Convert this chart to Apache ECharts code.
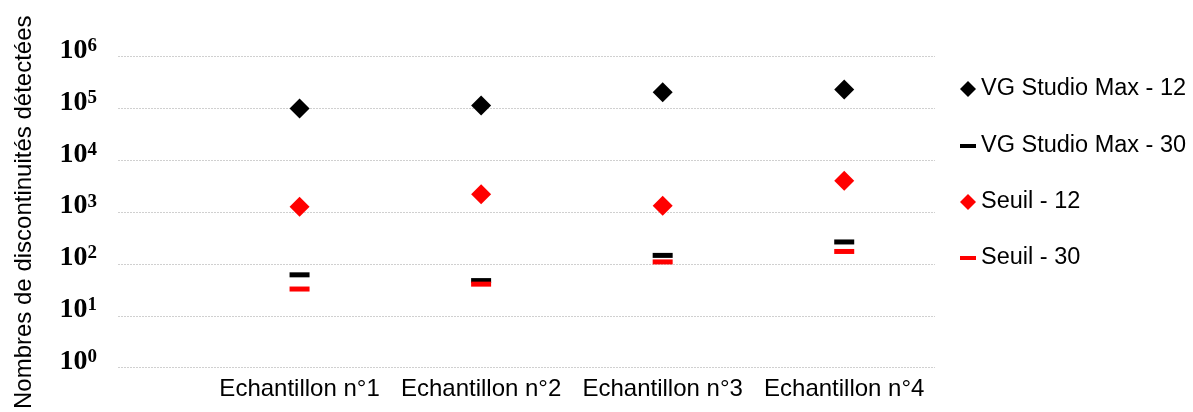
<!DOCTYPE html>
<html>
<head>
<meta charset="utf-8">
<script src="https://cdn.jsdelivr.net/npm/echarts@6/dist/echarts.min.js"></script>
<style>
html,body{margin:0;padding:0;background:#fff;}
#chart{width:1193px;height:412px;}
</style>
</head>
<body>
<div id="chart"></div>
<script>
const categories = ['Echantillon n°1', 'Echantillon n°2', 'Echantillon n°3', 'Echantillon n°4'];
const vgStudio12 = [100000, 114000, 207000, 233000];
const vgStudio30 = [62, 48, 147, 267];
const seuil12 = [1270, 2220, 1330, 4030];
const seuil30 = [33, 41, 110, 175];
const yExponents = [0, 1, 2, 3, 4, 5, 6];
const seriesNames = ['VG Studio Max - 12', 'VG Studio Max - 30', 'Seuil - 12', 'Seuil - 30'];

const toPoints = arr => arr.map((v, i) => [i + 1, v]);
const FONT = 'Liberation Sans, Arial, sans-serif';
const SERIF = 'Liberation Serif, DejaVu Serif, serif';

const chart = echarts.init(document.getElementById('chart'));

const diamondSize = 20;
const dashSize = [20, 5];

function legendAt(name, top, iconH) {
  return {
    data: [name],
    orient: 'vertical',
    left: 960,
    top: top,
    padding: 0,
    itemWidth: 16,
    itemHeight: iconH,
    itemGap: 0,
    itemStyle: { opacity: 1 },
    textStyle: { fontFamily: FONT, fontSize: 23.5, color: '#000' },
    selectedMode: false
  };
}

chart.setOption({
  animation: false,
  backgroundColor: '#fff',
  grid: { left: 118, right: 258, top: 56.7, bottom: 39.7, containLabel: false },
  legend: [
    legendAt(seriesNames[0], 77, 16),
    legendAt(seriesNames[1], 134, 4),
    legendAt(seriesNames[2], 190, 16),
    legendAt(seriesNames[3], 246, 4)
  ],
  xAxis: {
    type: 'value',
    min: 0,
    max: 4.5,
    interval: 1,
    axisLine: { show: false },
    axisTick: { show: false },
    splitLine: { show: false },
    axisLabel: {
      showMaxLabel: false,
      margin: 10,
      fontFamily: FONT,
      fontSize: 24,
      color: '#000',
      formatter: v => (Number.isInteger(v) && v >= 1 && v <= categories.length) ? categories[v - 1] : ''
    }
  },
  yAxis: {
    type: 'log',
    logBase: 10,
    min: Math.pow(10, yExponents[0]),
    max: Math.pow(10, yExponents[yExponents.length - 1]),
    name: 'Nombres de discontinuités détectées',
    nameLocation: 'middle',
    nameGap: 82,
    nameTextStyle: { fontFamily: FONT, fontSize: 24, color: '#000' },
    axisLine: { show: false },
    axisTick: { show: false },
    splitLine: { show: true, lineStyle: { color: '#d0d0d0', width: 1, type: [2, 1] } },
    axisLabel: {
      margin: 21,
      padding: [0, 0, 12, 0],
      formatter: v => '{b|10}{s|' + Math.round(Math.log10(v)) + '}',
      rich: {
        b: { fontFamily: SERIF, fontWeight: 'bold', fontSize: 28, lineHeight: 28, verticalAlign: 'top', color: '#000' },
        s: { fontFamily: SERIF, fontWeight: 'bold', fontSize: 19, lineHeight: 19, verticalAlign: 'top', color: '#000' }
      }
    }
  },
  series: [
    { name: seriesNames[0], type: 'scatter', symbol: 'diamond', symbolSize: diamondSize, itemStyle: { color: '#000000', opacity: 1 }, data: toPoints(vgStudio12) },
    { name: seriesNames[1], type: 'scatter', symbol: 'rect', symbolSize: dashSize, itemStyle: { color: '#000000', opacity: 1 }, data: toPoints(vgStudio30) },
    { name: seriesNames[2], type: 'scatter', symbol: 'diamond', symbolSize: diamondSize, itemStyle: { color: '#ff0000', opacity: 1 }, data: toPoints(seuil12) },
    { name: seriesNames[3], type: 'scatter', symbol: 'rect', symbolSize: dashSize, itemStyle: { color: '#ff0000', opacity: 1 }, data: toPoints(seuil30) }
  ]
});
</script>
</body>
</html>
